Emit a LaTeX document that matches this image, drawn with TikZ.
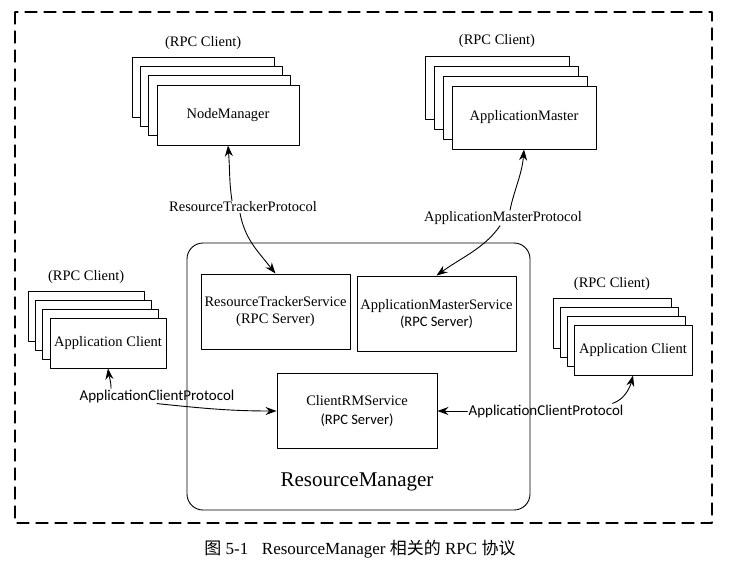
\documentclass[tikz,border=0pt]{standalone}
\usepackage{fontspec}
\setmainfont{Liberation Serif}
\newfontfamily\calfont{Carlito}
\newfontfamily\cjk{Noto Sans CJK SC}
\usetikzlibrary{positioning,arrows.meta}
\tikzset{
	hop/.style={draw, fill=white, line width=0.9pt, align=center, inner sep=1pt},
	nhan/.style={inner sep=1pt},
	vien/.style={line width=1.2pt, dash pattern=on 12pt off 7pt},
	noi/.style={->, line width=0.9pt}
}
\begin{document}
\begin{tikzpicture}[x=1pt, y=-1pt, font=\fontsize{14.5}{17}\selectfont, line join=round, line cap=round, >={Stealth[length=11pt,width=8pt]}]
	\useasboundingbox (0,0) rectangle (748,571);
	\coordinate (NM) at (228,115);
	\coordinate (AM) at (524,117.5);
	\coordinate (LC) at (108,343);
	\coordinate (RC) at (633,350);
	\draw[vien] (15,12) rectangle (712,523);
	% cac nhom client
	\foreach \lop in {3,2,1}	\node[hop, minimum width=142, minimum height=60, xshift=-8.3*\lop, yshift=9.3*\lop] (nm\lop) at (NM) {};
	\node[hop, minimum width=142, minimum height=60] (nm) at (NM) {NodeManager};
	\node[above=4pt of nm3] (nmc) {(RPC Client)};
	\foreach \lop in {3,2,1}	\node[hop, minimum width=144, minimum height=63, xshift=-9*\lop, yshift=10*\lop] (am\lop) at (AM) {};
	\node[hop, minimum width=144, minimum height=63] (am) at (AM) {ApplicationMaster};
	\node[above=4pt of am3] (amc) {(RPC Client)};
	\foreach \lop in {3,2,1}	\node[hop, minimum width=116, minimum height=50, xshift=-7.3*\lop, yshift=8.7*\lop] (lc\lop) at (LC) {};
	\node[hop, minimum width=116, minimum height=50] (lc) at (LC) {Application Client};
	\node[above=4pt of lc3] (lcc) {(RPC Client)};
	\foreach \lop in {3,2,1}	\node[hop, minimum width=118, minimum height=50, xshift=-7*\lop, yshift=8.7*\lop] (rc\lop) at (RC) {};
	\node[hop, minimum width=118, minimum height=50] (rc) at (RC) {Application Client};
	\node[above=4pt of rc3] (rcc) {(RPC Client)};
	% ResourceManager
	\node[draw, line width=0.9pt, rounded corners=16pt, minimum width=343, minimum height=267] (rm) at (358.5,376.5) {};
	\node[hop, minimum width=149, minimum height=75] (rts) at (275.5,311.5) {ResourceTrackerService\\(RPC Server)};
	\node[hop, minimum width=159, minimum height=75] (ams) at (436.5,313.5) {ApplicationMasterService\\{\calfont (RPC Server)}};
	\node[hop, minimum width=160, minimum height=75] (crm) at (357,411) {ClientRMService\\[2pt]{\calfont (RPC Server)}};
	\node[font=\fontsize{21}{24}\selectfont] (rmt) at (357,482) {ResourceManager};
	% giao thuc
	\node[nhan] (rtp) at (243,207) {ResourceTrackerProtocol};
	\node[nhan] (amp) at (503,218) {ApplicationMasterProtocol};
	\node[nhan, font=\calfont\fontsize{15}{17}\selectfont] (lcp) at (157,396) {ApplicationClientProtocol};
	\node[nhan, font=\calfont\fontsize{15}{17}\selectfont] (rcp) at (546,411) {ApplicationClientProtocol};
	\draw[noi] ([xshift=-11pt]rtp.north) .. controls +(-3,-20) and +(2,25) .. (nm.south);
	\draw[noi] ([xshift=-3pt]rtp.south) .. controls +(5,25) and +(-20,-25) .. (rts.north);
	\draw[noi] ([xshift=7pt]amp.north) .. controls +(4,-20) and +(-2,25) .. (am.south);
	\draw[noi] ([xshift=-3pt]amp.south) .. controls +(-15,22) and +(25,-18) .. (ams.north);
	\draw[noi] ([xshift=-46pt]lcp.north) .. controls +(0,-8) and +(1,8) .. (lc.south);
	\draw[noi] (lcp.south) .. controls +(40,4) and +(-50,0) .. (crm.west);
	\draw[noi] (rcp.west) -- (crm.east);
	\draw[noi] ([xshift=-12pt]rcp.north east) .. controls +(12,-4) and +(-3,12) .. (rc.south);
	% chu thich
	\node[font=\fontsize{17}{20}\selectfont] (cap) at (360,549) {{\cjk 图} 5-1\hspace{0.8em}ResourceManager {\cjk 相关的} RPC {\cjk 协议}};
\end{tikzpicture}
\end{document}
